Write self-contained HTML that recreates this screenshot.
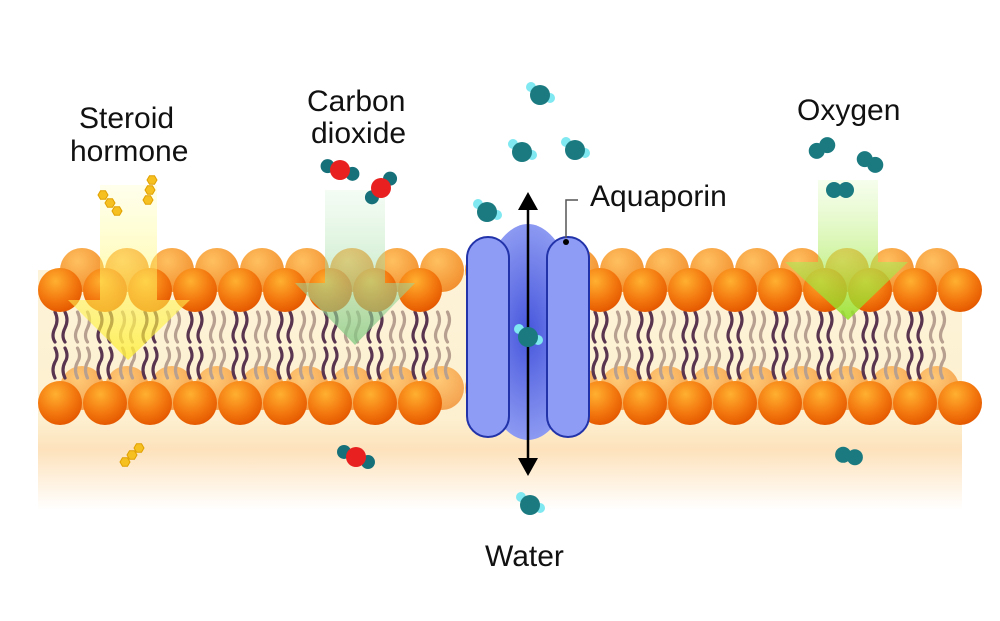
<!DOCTYPE html>
<html><head><meta charset="utf-8">
<style>
html,body{margin:0;padding:0;background:#fff;}
svg{display:block}
text{font-family:"Liberation Sans",sans-serif;font-size:30px;fill:#111}
</style></head>
<body>
<svg id="s" width="1000" height="621" viewBox="0 0 1000 621" xmlns="http://www.w3.org/2000/svg">
<defs>
<radialGradient id="head" cx="0.4" cy="0.3" r="0.7">
<stop offset="0" stop-color="#ffb030"/><stop offset="0.6" stop-color="#f47a10"/><stop offset="1" stop-color="#e55a00"/>
</radialGradient>
<radialGradient id="headb" cx="0.4" cy="0.3" r="0.7">
<stop offset="0" stop-color="#ffc060"/><stop offset="1" stop-color="#f29030"/>
</radialGradient>
<linearGradient id="band" x1="0" y1="0" x2="0" y2="1">
<stop offset="0" stop-color="#fdf3d8"/><stop offset="0.62" stop-color="#fdf0d0"/><stop offset="0.75" stop-color="#fde2bc"/><stop offset="1" stop-color="#ffffff"/>
</linearGradient>
<linearGradient id="yel" x1="0" y1="0" x2="0" y2="1">
<stop offset="0" stop-color="#ffffa0" stop-opacity="0.2"/><stop offset="1" stop-color="#ffee30" stop-opacity="0.75"/>
</linearGradient>
<linearGradient id="grn" x1="0" y1="0" x2="0" y2="1">
<stop offset="0" stop-color="#c8f0c8" stop-opacity="0.2"/><stop offset="1" stop-color="#80c880" stop-opacity="0.75"/>
</linearGradient>
<linearGradient id="lime" x1="0" y1="0" x2="0" y2="1">
<stop offset="0" stop-color="#d0f8a0" stop-opacity="0.2"/><stop offset="1" stop-color="#90e020" stop-opacity="0.85"/>
</linearGradient>
<radialGradient id="blob" cx="0.5" cy="0.5" r="0.5">
<stop offset="0" stop-color="#4656dc"/><stop offset="1" stop-color="#8d9af2"/>
</radialGradient>
</defs>
<rect x="38" y="270" width="924" height="240" fill="url(#band)"/>
<g id="back"></g>
<g id="tails"></g>
<g id="front"></g>
<path d="M100 185 H157 V300 H190 L128 360 L68 300 H100 Z" fill="url(#yel)"/>
<path d="M325 190 H385 V283 H415 L355 345 L295 283 H325 Z" fill="url(#grn)"/>
<path d="M818 180 H878 V262 H908 L848 320 L785 262 H818 Z" fill="url(#lime)"/>
<ellipse cx="528" cy="332" rx="52" ry="108" fill="url(#blob)"/>
<rect x="467" y="237" width="42" height="200" rx="21" fill="#8e9cf5" stroke="#2233aa" stroke-width="2"/>
<rect x="547" y="237" width="42" height="200" rx="21" fill="#8e9cf5" stroke="#2233aa" stroke-width="2"/>
<line x1="528" y1="205" x2="528" y2="462" stroke="#000" stroke-width="2.5"/>
<path d="M528 192 L518 210 L538 210 Z M528 476 L518 458 L538 458 Z" fill="#000"/>
<polyline points="566,238 566,200 578,200" fill="none" stroke="#555" stroke-width="1.5"/>
<circle cx="566" cy="242" r="3" fill="#000"/>
<g id="mol"></g>
<text x="79" y="128">Steroid</text>
<text x="70" y="161">hormone</text>
<text x="307" y="111">Carbon</text>
<text x="311" y="143">dioxide</text>
<text x="590" y="206">Aquaporin</text>
<text x="797" y="120">Oxygen</text>
<text x="485" y="566">Water</text>
</svg>
<script>
var NS="http://www.w3.org/2000/svg";
function el(p,t,a){var e=document.createElementNS(NS,t);for(var k in a)e.setAttribute(k,a[k]);p.appendChild(e);return e;}
var back=document.getElementById('back'),front=document.getElementById('front'),tails=document.getElementById('tails'),mol=document.getElementById('mol');
for(var x=82;x<960;x+=45){el(back,'circle',{cx:x,cy:270,r:22,fill:'url(#headb)'});el(back,'circle',{cx:x,cy:388,r:22,fill:'url(#headb)',opacity:0.8});}
for(var x=60;x<980;x+=45){
 if(x>455&&x<600)continue;
 el(front,'circle',{cx:x,cy:290,r:22,fill:'url(#head)'});
 el(front,'circle',{cx:x,cy:403,r:22,fill:'url(#head)'});
}
for(var x=60;x<960;x+=22.5){
 if(x>455&&x<600)continue;
 var dark=(Math.round((x-60)/22.5)%2==0);
 var c=dark?'#5a3550':'#b8a090';
 [-5,5].forEach(function(d){
  el(tails,'path',{d:'M'+(x+d)+' 312 q4 8 0 16 q-4 8 0 14 M'+(x+d)+' 348 q4 8 0 14 q-4 8 0 16',fill:'none',stroke:c,'stroke-width':3.2,'stroke-linecap':'round'});
 });
}
function water(x,y){el(mol,'circle',{cx:x-9,cy:y-8,r:5,fill:'#7fe8f0'});el(mol,'circle',{cx:x+10,cy:y+3,r:5,fill:'#7fe8f0'});el(mol,'circle',{cx:x,cy:y,r:10,fill:'#1a7a80'});}
[[540,95],[522,152],[575,150],[487,212],[528,337],[530,505]].forEach(function(p){water(p[0],p[1]);});
function co2(x,y,a){var dx=Math.cos(a)*13,dy=Math.sin(a)*13;el(mol,'circle',{cx:x-dx,cy:y-dy,r:7,fill:'#15707a'});el(mol,'circle',{cx:x+dx,cy:y+dy,r:7,fill:'#15707a'});el(mol,'circle',{cx:x,cy:y,r:10,fill:'#e82020'});}
co2(340,170,0.3);co2(381,188,-0.8);co2(356,457,0.4);
function o2(x,y,a){var dx=Math.cos(a)*6,dy=Math.sin(a)*6;el(mol,'circle',{cx:x-dx,cy:y-dy,r:8,fill:'#1a7a80'});el(mol,'circle',{cx:x+dx,cy:y+dy,r:8,fill:'#1a7a80'});}
o2(822,148,-0.5);o2(870,162,0.5);o2(840,190,0);o2(849,456,0.2);
function hexchain(x,y,n,dx,dy){for(var i=0;i<n;i++){var cx=x+i*dx,cy=y+i*dy,pts=[];for(var k=0;k<6;k++){var a=Math.PI/3*k;pts.push((cx+5*Math.cos(a)).toFixed(1)+','+(cy+5*Math.sin(a)).toFixed(1));}el(mol,'polygon',{points:pts.join(' '),fill:'#f5c020',stroke:'#e0a000','stroke-width':1});}}
hexchain(103,195,3,7,8);hexchain(152,180,3,-2,10);hexchain(125,462,3,7,-7);
</script>
</body></html>
